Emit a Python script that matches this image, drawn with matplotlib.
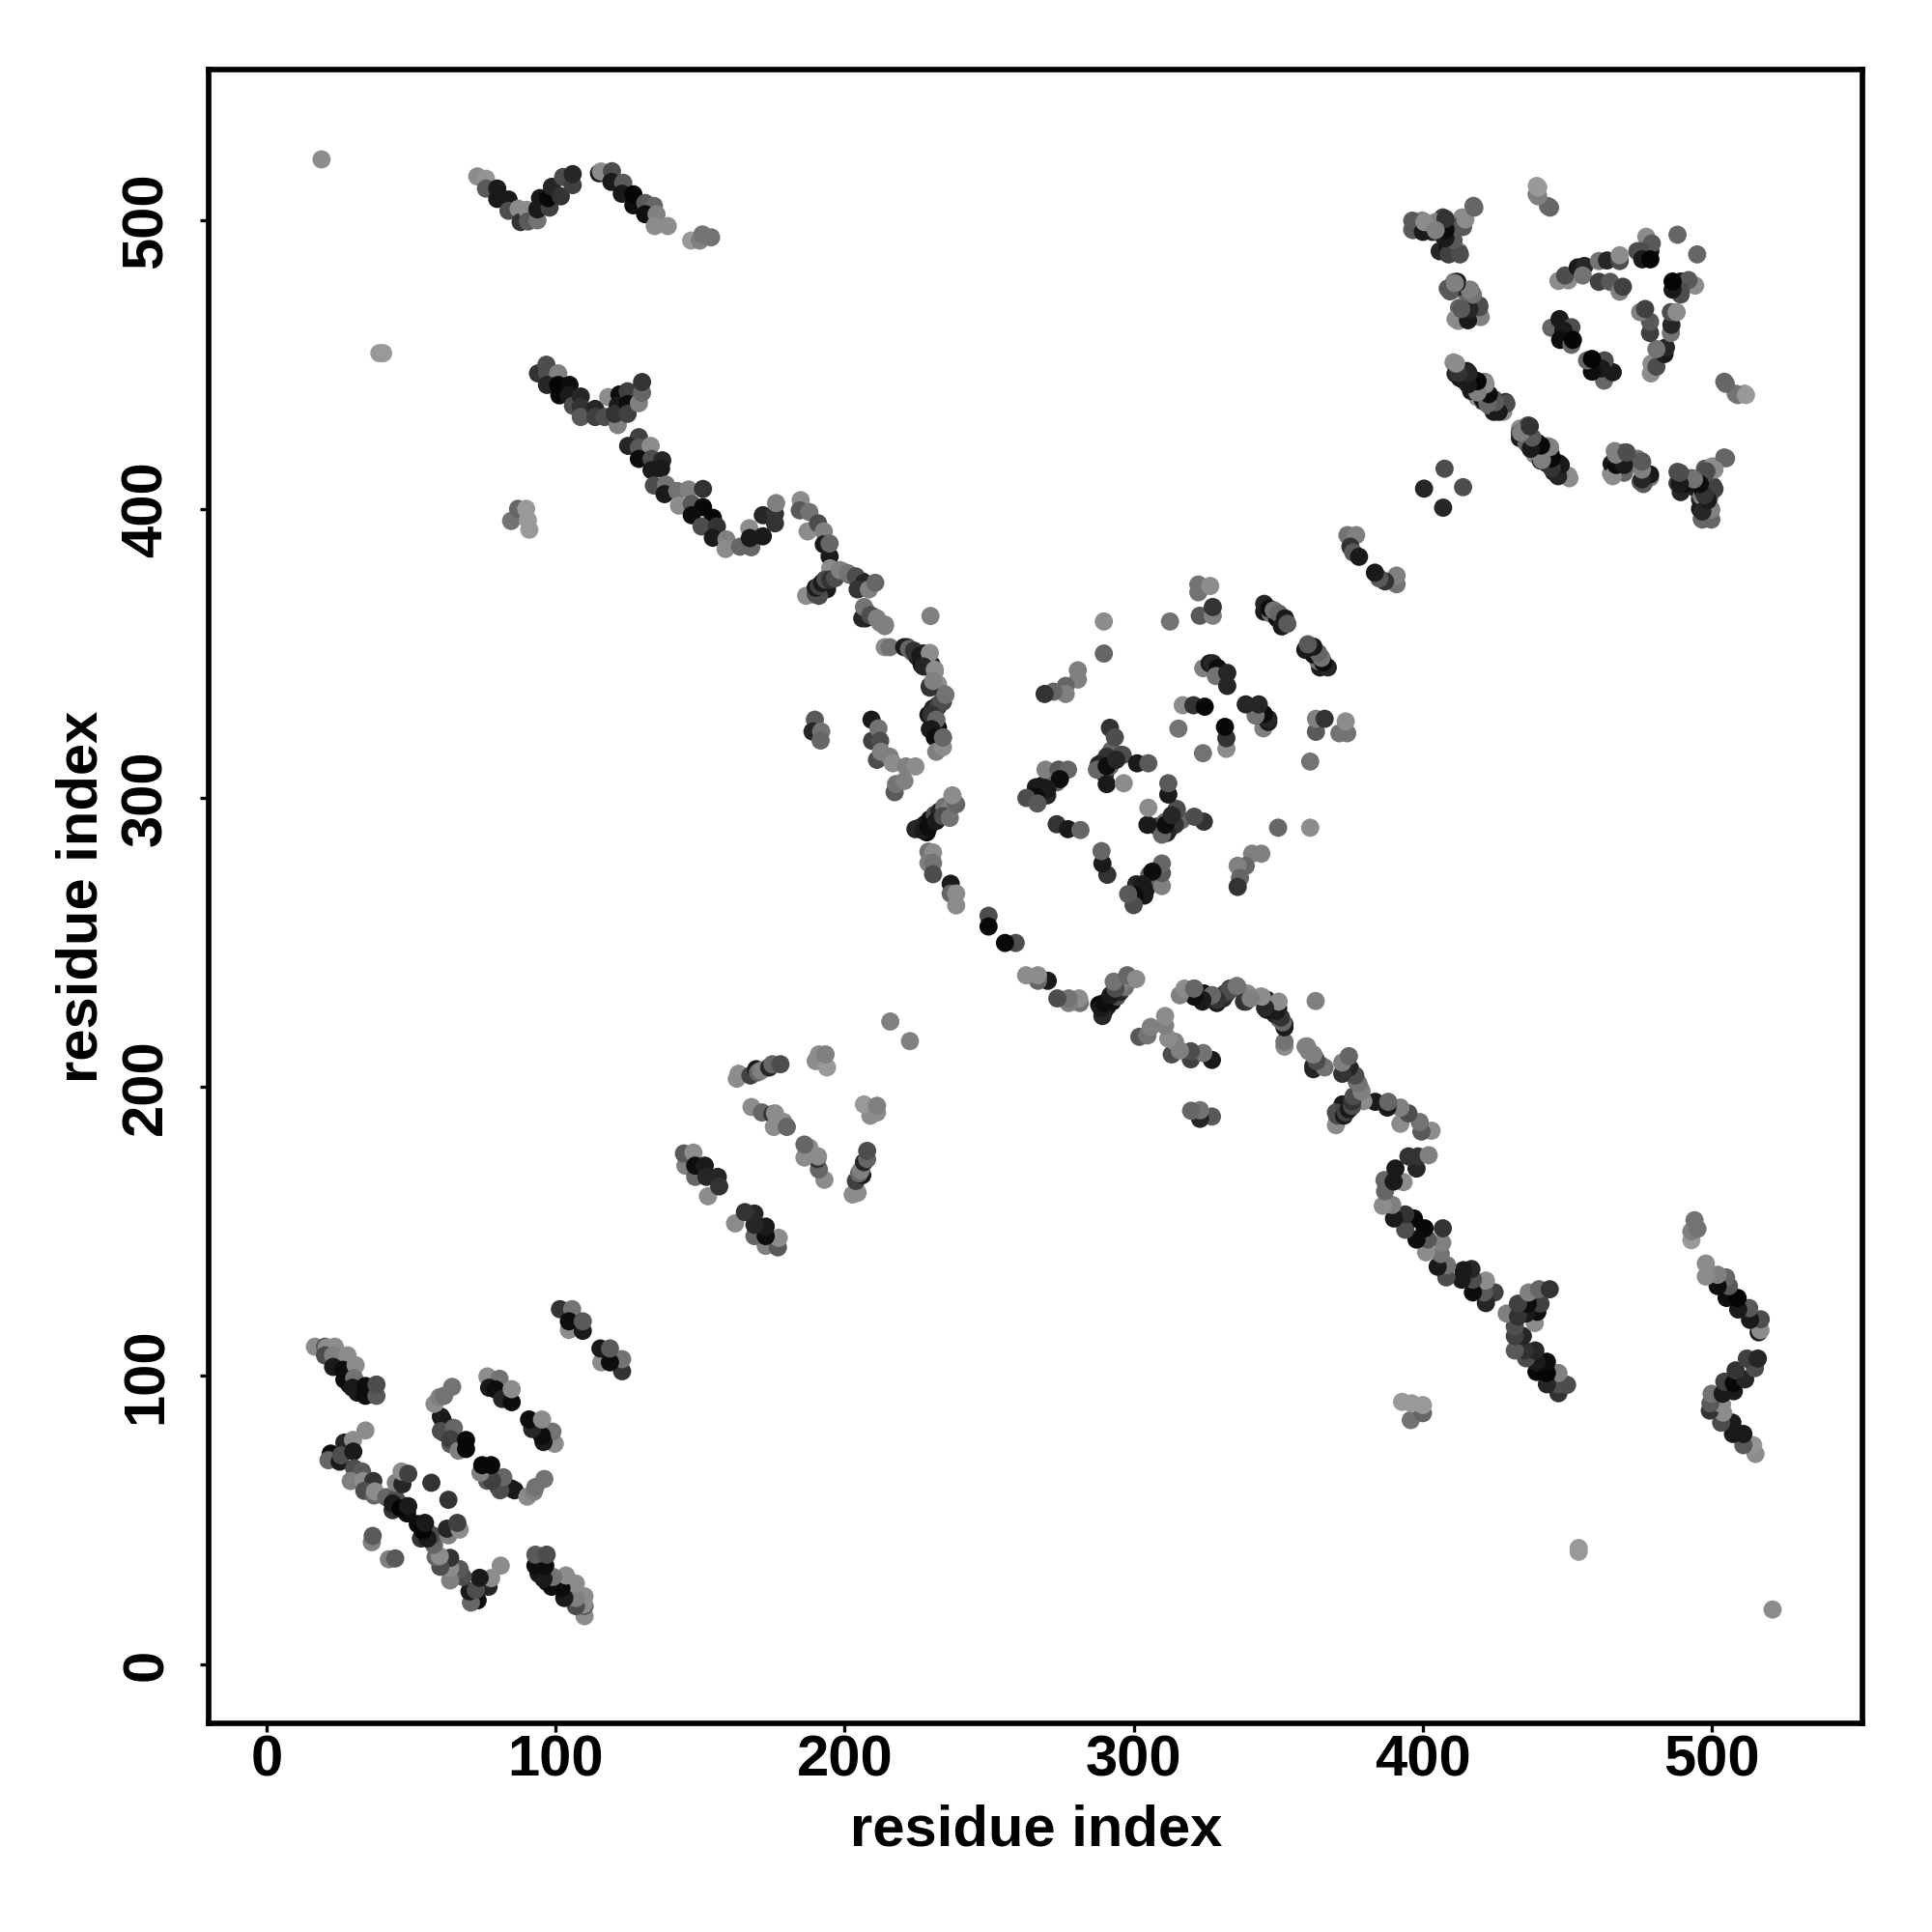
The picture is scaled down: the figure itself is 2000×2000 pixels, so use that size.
import numpy as np
import matplotlib
matplotlib.use("Agg")
import matplotlib.pyplot as plt

# Contacts above the diagonal as (residue i, residue j, grey level); the map is symmetric.
dense_band = [(221.7,352.2,.2),(223.4,350.5,.4),(225.1,348.9,.15),(226.7,346.1,.05),(227.3,350,.05),(230.1,346.1,.1),
    (231.2,343.8,.55),(229.5,338.8,.15),(232.3,339.4,.55),(234.5,336,.45),(234,333.3,.25),(232.3,332.1,.1),
    (230.6,330.5,.2),(229,328.8,.1),(231.7,327.1,.35),(229.5,323.8,.1),(232.3,324.3,.03),(231.7,321,.05),
    (234,321,.4),(226.2,289.8,.05),(227.8,290.9,.1),(229.5,292.6,.05),(231.2,294.2,.3),(232.9,295.4,.15),
    (234.5,297,.45),(236.2,295.9,.5),(228.4,288.1,.02)]
dense_cross = [(188.9,370.6,.15),(190.6,372.3,.05),(192.2,374,.3),(193.3,375.6,.1),(195,376.2,.2),(193.9,372.3,.1),
    (191.1,370,.3),(196.1,379,.45),(199.5,378.4,.55),(201.7,377.3,.3),(203.9,376.2,.4),(206.1,375,.1),
    (208.4,372.8,.5),(207.3,365,.45),(207.3,362.2,.1),(210,362.8,.5),(212.3,360.6,.5),(213.9,359.5,.5)]
dense_diamond = [(291.8,315.4,.1),(289,312.1,.05),(292.3,312.6,.25),(296.2,314.9,.3),(288.5,309.8,.1),(290.1,308.2,.2),
    (291.8,311,.4),(270.6,306.5,.05),(268.4,304.3,.1),(272.3,308.7,.45),(273.4,306.5,.35),(345.2,364.5,.1),
    (347.4,363.9,.45),(349.7,362.2,.05),(351.9,360.6,.1),(328,345.5,.1),(329.6,343.8,.45)]
dense_corner = [(496,403.4,.15),(499.4,404.5,.5),(494.9,406.8,.3),(492.1,410.1,.1),(490.5,411.2,.45),(406.4,497,.05),
    (408.1,498.7,.3),(409.8,493.7,.1),(405.9,489.3,.15),(408.7,490.4,.05),(478.8,489.3,.1),(474.3,489.3,.3),
    (438.7,419,.55),(440.9,416.8,.1),(445.4,412.9,.1),(433.7,424.6,.1),(435.9,423,.4),(438.2,420.7,.05),
    (468.8,417.9,.4),(474.3,415.7,.4),(477.1,412.3,.1)]
dense_low = [(28.6,96.9,.1),(31.4,94.1,.1),(33,94.7,.05),(45.8,55.7,.1),(48.6,52.3,.05),(43.6,53.4,.2),(60.3,85.8,.1),
    (61.4,80.2,.15),(63.6,76.3,.35),(67,76.3,.05)]
far_singles = [(19.0,521.1,.55),(39,454,.6),(40.3,454,.6),(84.6,395.9,.45),(87,400.1,.4),(89.8,400.1,.6),
    (90.4,396.2,.6),(90.9,392.9,.6),(229.7,363,.5),(215.8,222.6,.5),(400.5,407.1,.15),(407.6,414,.3),
    (249.8,259.2,.3),(249.8,255.5,.03),(504.4,444.1,.4),(508.3,440,.5),(511.4,440,.6)]
strip_a = [(72.9,515.2,.55),(75.9,514.4,.58),(75.9,511,.35),(79.8,511,.1),(79.8,507.4,.1),(83.7,507.2,.1),
    (83.7,503.3,.3),(87.2,504,.55),(87.9,499.4,.2),(90.1,503.6,.55),(90.4,499.6,.35),(93.7,500,.45),
    (93.7,503.8,.1),(94.6,507.7,.1),(97.9,504.4,.25),(97.4,507.7,.03),(98.7,511.6,.15),(101.8,508.3,.2),
    (102.6,515,.3),(105.9,512.2,.25),(105.9,516,.15)]
strip_b = [(115,516.3,.1),(115.7,516.9,.55),(119.5,517,.3),(119.3,513.3,.1),(123.4,513,.35),(122.9,509.2,.1),
    (126.9,505.2,.05),(126.9,509,.02),(131,506,.35),(134,505,.4),(131,502.1,.05),(134.9,502.1,.5),
    (134.3,498,.55),(138.8,498,.55),(146.9,493,.6),(149.9,493,.5),(150.8,495.1,.45),(153.8,494.1,.45)]
band_a = [(93.9,447,.2),(96.8,450,.3),(97,447,.3),(100.9,447,.5),(97,443,.15),(101.3,439.4,.03),(100.9,443,.02),
    (104.8,443,.05),(104.6,439.4,.1),(106,435.8,.3),(108.7,439,.15),(108.7,435.3,.2),(108.7,431.9,.35),
    (113.7,434.7,.15),(113.7,431.9,.25),(117,431.9,.3),(118.2,438.8,.55),(121.5,429.1,.5),(122.1,439.7,.05),
    (121.5,435.8,.1),(120.4,433,.2),(124.9,440.8,.25),(124.9,436.4,.05),(124.9,433,.25),(128.8,436.7,.5),
    (129.9,440.3,.4),(129.9,444,.2)]
band_b = [(128.8,424.9,.25),(125.1,421.9,.15),(128.8,421.3,.35),(132.9,421.9,.55),(128.8,417.4,.05),
    (133.2,417.4,.3),(136.9,416.9,.15),(133.2,413.5,.1),(136.5,414.1,.1),(134,408.2,.3),(138.2,408.5,.45),
    (137.7,405.2,.1),(142.1,406.3,.45),(146,406.8,.5),(151,407,.2),(142.7,401.2,.55),(147.1,401.8,.35),
    (151,400.7,.03),(147.1,397.9,.05),(154.4,397,.03),(150.5,394,.3),(155.8,394,.2),(154.4,390.1,.1),
    (159.1,389.5,.5),(158.8,386.2,.55),(163.8,387,.4),(167.7,386.8,.4)]
band_c = [(167,393.4,.55),(167.2,390,.1),(171.7,390.6,.1),(171.7,397.9,.15),(175.9,395.1,.2),(175.9,398.4,.2),
    (176.3,402.1,.5),(184.8,403.1,.55),(184.5,399.6,.35),(187.8,399,.45),(187.2,392.3,.55),(190.8,395.1,.3),
    (192.8,392.3,.5),(192.8,387.8,.1),(194.8,383.6,.1),(194.8,388.1,.4),(195,379.5,.55)]
band_d = [(186.7,370,.55),(190,370.6,.3),(190,372.8,.1),(191.1,373.4,.25),(192.2,374.5,.1),(193.4,375.6,.3),
    (195,375.6,.2),(196.7,376.1,.3),(198.4,378.9,.5),(201.1,377.8,.45),(203.9,376.7,.3),(206.7,374.5,.15),
    (204.5,372.2,.2),(208.4,372.2,.5),(210.6,374.5,.4),(206.1,362.2,.15),(206.7,366.1,.45),(208.9,363.3,.3),
    (211.2,362.2,.5),(214,360,.5),(213.9,352.2,.55),(215.6,352.2,.45)]
band_e = [(220.6,352.2,.1),(222.3,351.6,.4),(224,351,.2),(226.2,349.4,.1),(229.5,350.2,.55),(227.3,345.5,.15),
    (231.2,344.4,.55),(229.5,338.2,.2),(230.6,340.5,.5),(230.6,331,.15),(232.3,331.6,.25),(233.4,333.2,.3),
    (234.9,335.7,.45),(230.1,328.8,.2),(231.7,327.1,.4),(230.1,323.8,.1),(231.2,321,.05),(231.7,316,.5),
    (234,317.6,.55),(234,320.9,.4)]
band_f = [(189.7,327.1,.35),(188.9,323,.15),(191.9,323,.45),(191.7,319.9,.4),(209.3,327.1,.1),(209.5,319.8,.25),
    (211.7,324.1,.45),(212.3,319.8,.3),(211.2,313.2,.3),(212.6,316,.5),(215.6,314.3,.5),(216.7,312,.55),
    (221.2,310.9,.5),(224.5,310.9,.55),(217.3,302,.35),(217.8,304.8,.45),(220.7,305.9,.5)]
band_g = [(224.5,289.2,.15),(227.3,288.7,.1),(229,289.8,.05),(231.7,292,.1),(234,293.7,.3),(236.4,293.1,.45),
    (238.6,297.8,.4),(237.3,300.9,.55),(229,281.4,.45),(230.6,281.1,.55),(229,277.5,.5),(230.6,277.5,.45),
    (230.6,273.6,.3),(236.7,270.3,.1),(236.7,266.9,.4),(238.6,266.9,.55),(238.6,262.8,.55)]
diamond_a = [(322.4,373.9,.45),(322.4,371.2,.45),(326.5,373.4,.55),(322.9,363.1,.35),(327.4,363.1,.5),
    (327.4,366.1,.2),(289.7,361.1,.55),(312.6,361.1,.45),(289.7,350,.4),(280.7,344.2,.5),(280.7,341,.5),
    (276.5,338.8,.4),(276.5,336,.5),(272.3,336.8,.4),(269.2,336,.2)]
diamond_b = [(345.2,367.2,.15),(346.9,365.6,.05),(348.5,365,.45),(350.2,363.9,.4),(352.4,362.2,.1),(351.3,359.4,.1),
    (353.2,360.3,.35),(324.1,344.9,.5),(326.3,346.6,.1),(327.4,346.6,.15),(329.1,345,.05),(328.5,342.2,.45),
    (332.4,338.8,.15),(332.4,343.3,.15),(317,332.1,.55),(320.7,332.1,.2),(324.6,331.6,.03),(315.5,324,.45)]
diamond_c = [(292.3,316.5,.4),(291.8,324.3,.2),(293.5,321,.3),(295.7,314.9,.3),(290.7,314.3,.2),(287.9,311.5,.15),
    (287.3,309.8,.4),(290.7,311,.05),(290.7,304.8,.1),(296.6,305.1,.55),(294,313.2,.15),(301.2,312,.1),
    (305.1,312,.35),(269.5,309.8,.5),(274,309.8,.35),(277.3,309.8,.4),(273.4,305.4,.4),(274.5,306.5,.05),
    (270.1,300.9,.15),(270.1,303.1,.1),(266.2,303.7,.1),(266.2,300.4,.05),(262.9,300,.3),(266.7,298.1,.35),
    (273.4,290.9,.2),(277.3,289.2,.1),(281.6,288.9,.4)]
upper_mid = [(374,391,.45),(377,391,.5),(375,387,.2),(376,385,.35),(378,383.5,.1)]
top_right_a = [(439.5,509,.45),(439.5,511.9,.6),(443.4,504.9,.4),(417.6,505,.4),(413.7,501,.55),(413.1,498.2,.3),
    (407,501,.25),(396.4,496.8,.4),(396.4,499.9,.4),(399.8,499.9,.5),(399.2,496.8,.15),(403.1,498.7,.1),
    (404.8,497.6,.2),(408.7,495.9,.05),(410.3,493.9,.45),(408.7,489,.1),(412.6,489,.3)]
top_right_b = [(410.9,478.7,.5),(408.7,476.4,.35),(412,478.7,.1),(410.3,475.9,.15),(413.7,475.9,.5),(416.5,475.9,.35),
    (412.6,469.7,.4),(411.4,465.8,.55),(415.3,467,.05),(415.3,469.7,.1),(418.9,466.9,.5),(419.6,470.6,.3)]
top_right_c = [(410.7,450.8,.55),(411.4,446.9,.15),(415.3,447.8,.1),(414.2,444.7,.2),(417.6,444.7,.03),(421.5,444.1,.5),
    (417,441.3,.5),(422,441,.03),(420.9,437.4,.1),(424.8,438,.35),(426.5,434,.5),(428.7,437.1,.2),
    (433.7,427.9,.55),(436.5,429,.3),(433.7,426.3,.1),(437,425.1,.35),(436.5,422.4,.4),(439.8,422.9,.05),
    (443.2,421.8,.55),(440.4,419,.5),(444.3,419,.02),(443.2,415.7,.1),(447.1,415.9,.15),(447.1,412.3,.2),
    (450.4,411.6,.55)]
top_right_d = [(466.5,420.1,.5),(469.9,419.6,.3),(465.2,412.3,.55),(465.4,415.7,.1),(469.3,416.2,.15),(469.3,413.4,.35),
    (474.3,417.4,.45),(476,416.2,.5),(475.4,409.5,.35),(478.2,411.8,.1),(478.2,411.2,.5),(488.2,409,.25),
    (488.2,412.9,.3),(493.2,410.7,.35),(493.8,407.9,.1),(497.7,414,.35),(500.3,414.8,.55),(504.4,417.9,.4),
    (496.6,407.9,.05),(500.5,407.9,.2),(496.6,396.7,.35),(499.6,396.7,.35),(496,400.1,.1),(499.4,400.6,.55),
    (496.6,404.5,.5)]
triangle = [(488.2,495,.4),(477.4,494.3,.55),(479.3,492,.35),(475.4,489.3,.3),(476,486.5,.1),(478.8,486.5,.02),
    (447,479,.55),(450.4,479.2,.55),(449.3,480.9,.3),(453.7,483.7,.1),(456,484.2,.15),(455.4,480.9,.45),
    (461,485.9,.45),(463.8,486.1,.15),(468.2,485.9,.3),(468.2,487.9,.55),(461,478.7,.25),(464.9,478.7,.35),
    (468.2,475.3,.5),(469.3,477,.25),(444.5,462.8,.4),(447.4,465.8,.1),(451.5,463,.3),(448.7,461.9,.1),
    (447.6,458.6,.05),(451.5,456.9,.4),(452,458.6,.02)]
mid_a = [(162.7,202.8,.55),(163.3,204.5,.55),(167.4,203.9,.25),(169.4,206.1,.1),(170,205,.4),(171.1,205.6,.5),
    (173.9,206.7,.15),(175,207.8,.4),(177.8,207.8,.3),(190,208.9,.55),(191.1,211.2,.55),(193.9,206.7,.6),
    (193.4,211.2,.5),(167.8,193,.55),(171.4,191.1,.4),(175,190.5,.2),(175.9,190.8,.55),(175.5,186.1,.55),
    (178.9,187.8,.55),(180,186.1,.4)]
mid_b = [(144.9,172.7,.5),(144.4,176.9,.35),(147.7,177.2,.55),(148.3,168.8,.4),(152.7,162.1,.55),(148.3,172.7,.05),
    (151.6,172.7,.1),(152.2,168.8,.15),(156.1,168.8,.15),(156.6,165.5,.2)]
low_a = [(16.7,110,.55),(20.2,110,.35),(23.6,110,.55),(20.8,109.7,.55),(20.2,107,.3),(23,107,.5),(28,107,.55),
    (23,103,.1),(26.4,102,.05),(30.8,103.6,.55),(26.9,98.6,.05),(30.3,99.1,.45),(29.7,95.8,.1),(34.2,93,.05),
    (34.2,96.4,.05),(38,93,.35),(38,96.9,.3)]
low_b = [(34.2,81,.55),(26.9,76.8,.15),(29.9,77.7,.55),(22.2,73,.05),(21.4,70.7,.4),(25.3,70.2,.1),(25.8,72.4,.3),
    (30,73.7,.1),(30.3,67.9,.3),(33,66.8,.35),(29.1,63.5,.5),(33.4,63.5,.55),(36.9,63.5,.2),(33.8,60.1,.3),
    (37.2,58.5,.4),(37.5,59.9,.55),(41.4,57.9,.4),(44.7,57.3,.3),(43.6,55.7,.1),(46.4,54,.02),(49,54.8,.1),
    (44.7,62.9,.5),(47,62.4,.15),(46.7,66.8,.55),(49,66,.25),(57,62.9,.2),(36.4,42.3,.5),(36.7,44.5,.35)]
low_c = [(58.1,90.2,.55),(59.8,92.5,.5),(61.4,93,.45),(64.2,96.1,.45),(60.9,84.7,.1),(60.3,80.8,.3),(64.8,81.9,.4),
    (63.6,78,.25),(66.4,74,.5),(69,74.6,.03),(69,77.7,.03),(76.4,99.7,.55),(80.6,98.9,.45),(77,95.8,.1),
    (79.2,95.2,.05),(81.5,91.9,.15),(84.8,90.8,.05),(84.8,95.3,.55)]
low_d = [(101.5,123,.2),(105.7,123,.45),(104.6,115.8,.55),(109.4,115.5,.1),(104.6,118.8,.05),(109.4,118.8,.35)]

segments = [dense_band, dense_cross, dense_diamond, dense_corner, dense_low,
            far_singles, strip_a, strip_b, band_a, band_b, band_c, band_d, band_e, band_f, band_g,
            diamond_a, diamond_b, diamond_c, upper_mid, top_right_a, top_right_b, top_right_c,
            top_right_d, triangle, mid_a, mid_b, low_a, low_b, low_c, low_d]
x_ticks = [0, 100, 200, 300, 400, 500]
y_ticks = [0, 100, 200, 300, 400, 500]
axis_label = "residue index"

contacts = np.array([p for seg in segments for p in seg])
i_res, j_res, shade = contacts[:, 0], contacts[:, 1], contacts[:, 2]

plt.rcParams["font.family"] = ["Liberation Sans", "DejaVu Sans"]
plt.rcParams["font.weight"] = "bold"

fig = plt.figure(figsize=(10, 10), dpi=200, facecolor="white")
ax = fig.add_axes([0.10815, 0.108, 0.856, 0.856])
colors = np.column_stack([shade, shade, shade])
ax.scatter(np.r_[i_res, j_res], np.r_[j_res, i_res], c=np.r_[colors, colors], s=46, linewidths=0, zorder=2)
ax.set_xlim(-19.96, 552.3)
ax.set_ylim(-20.4, 552.2)
ax.set_xticks(x_ticks)
ax.set_yticks(y_ticks)
ax.tick_params(axis="x", length=3.2, width=1.2, labelsize=21.5, pad=1)
ax.tick_params(axis="y", length=3.2, width=1.2, labelsize=21.5, pad=10)
for t in ax.get_yticklabels():
    t.set_rotation(90)
    t.set_va("center")
for s in ax.spines.values():
    s.set_linewidth(2.05)
ax.set_xlabel(axis_label, fontsize=21.5, fontweight="bold", labelpad=6)
ax.set_ylabel(axis_label, fontsize=21.5, fontweight="bold", labelpad=4.5)
fig.savefig("out.png", dpi=200, facecolor="white")
